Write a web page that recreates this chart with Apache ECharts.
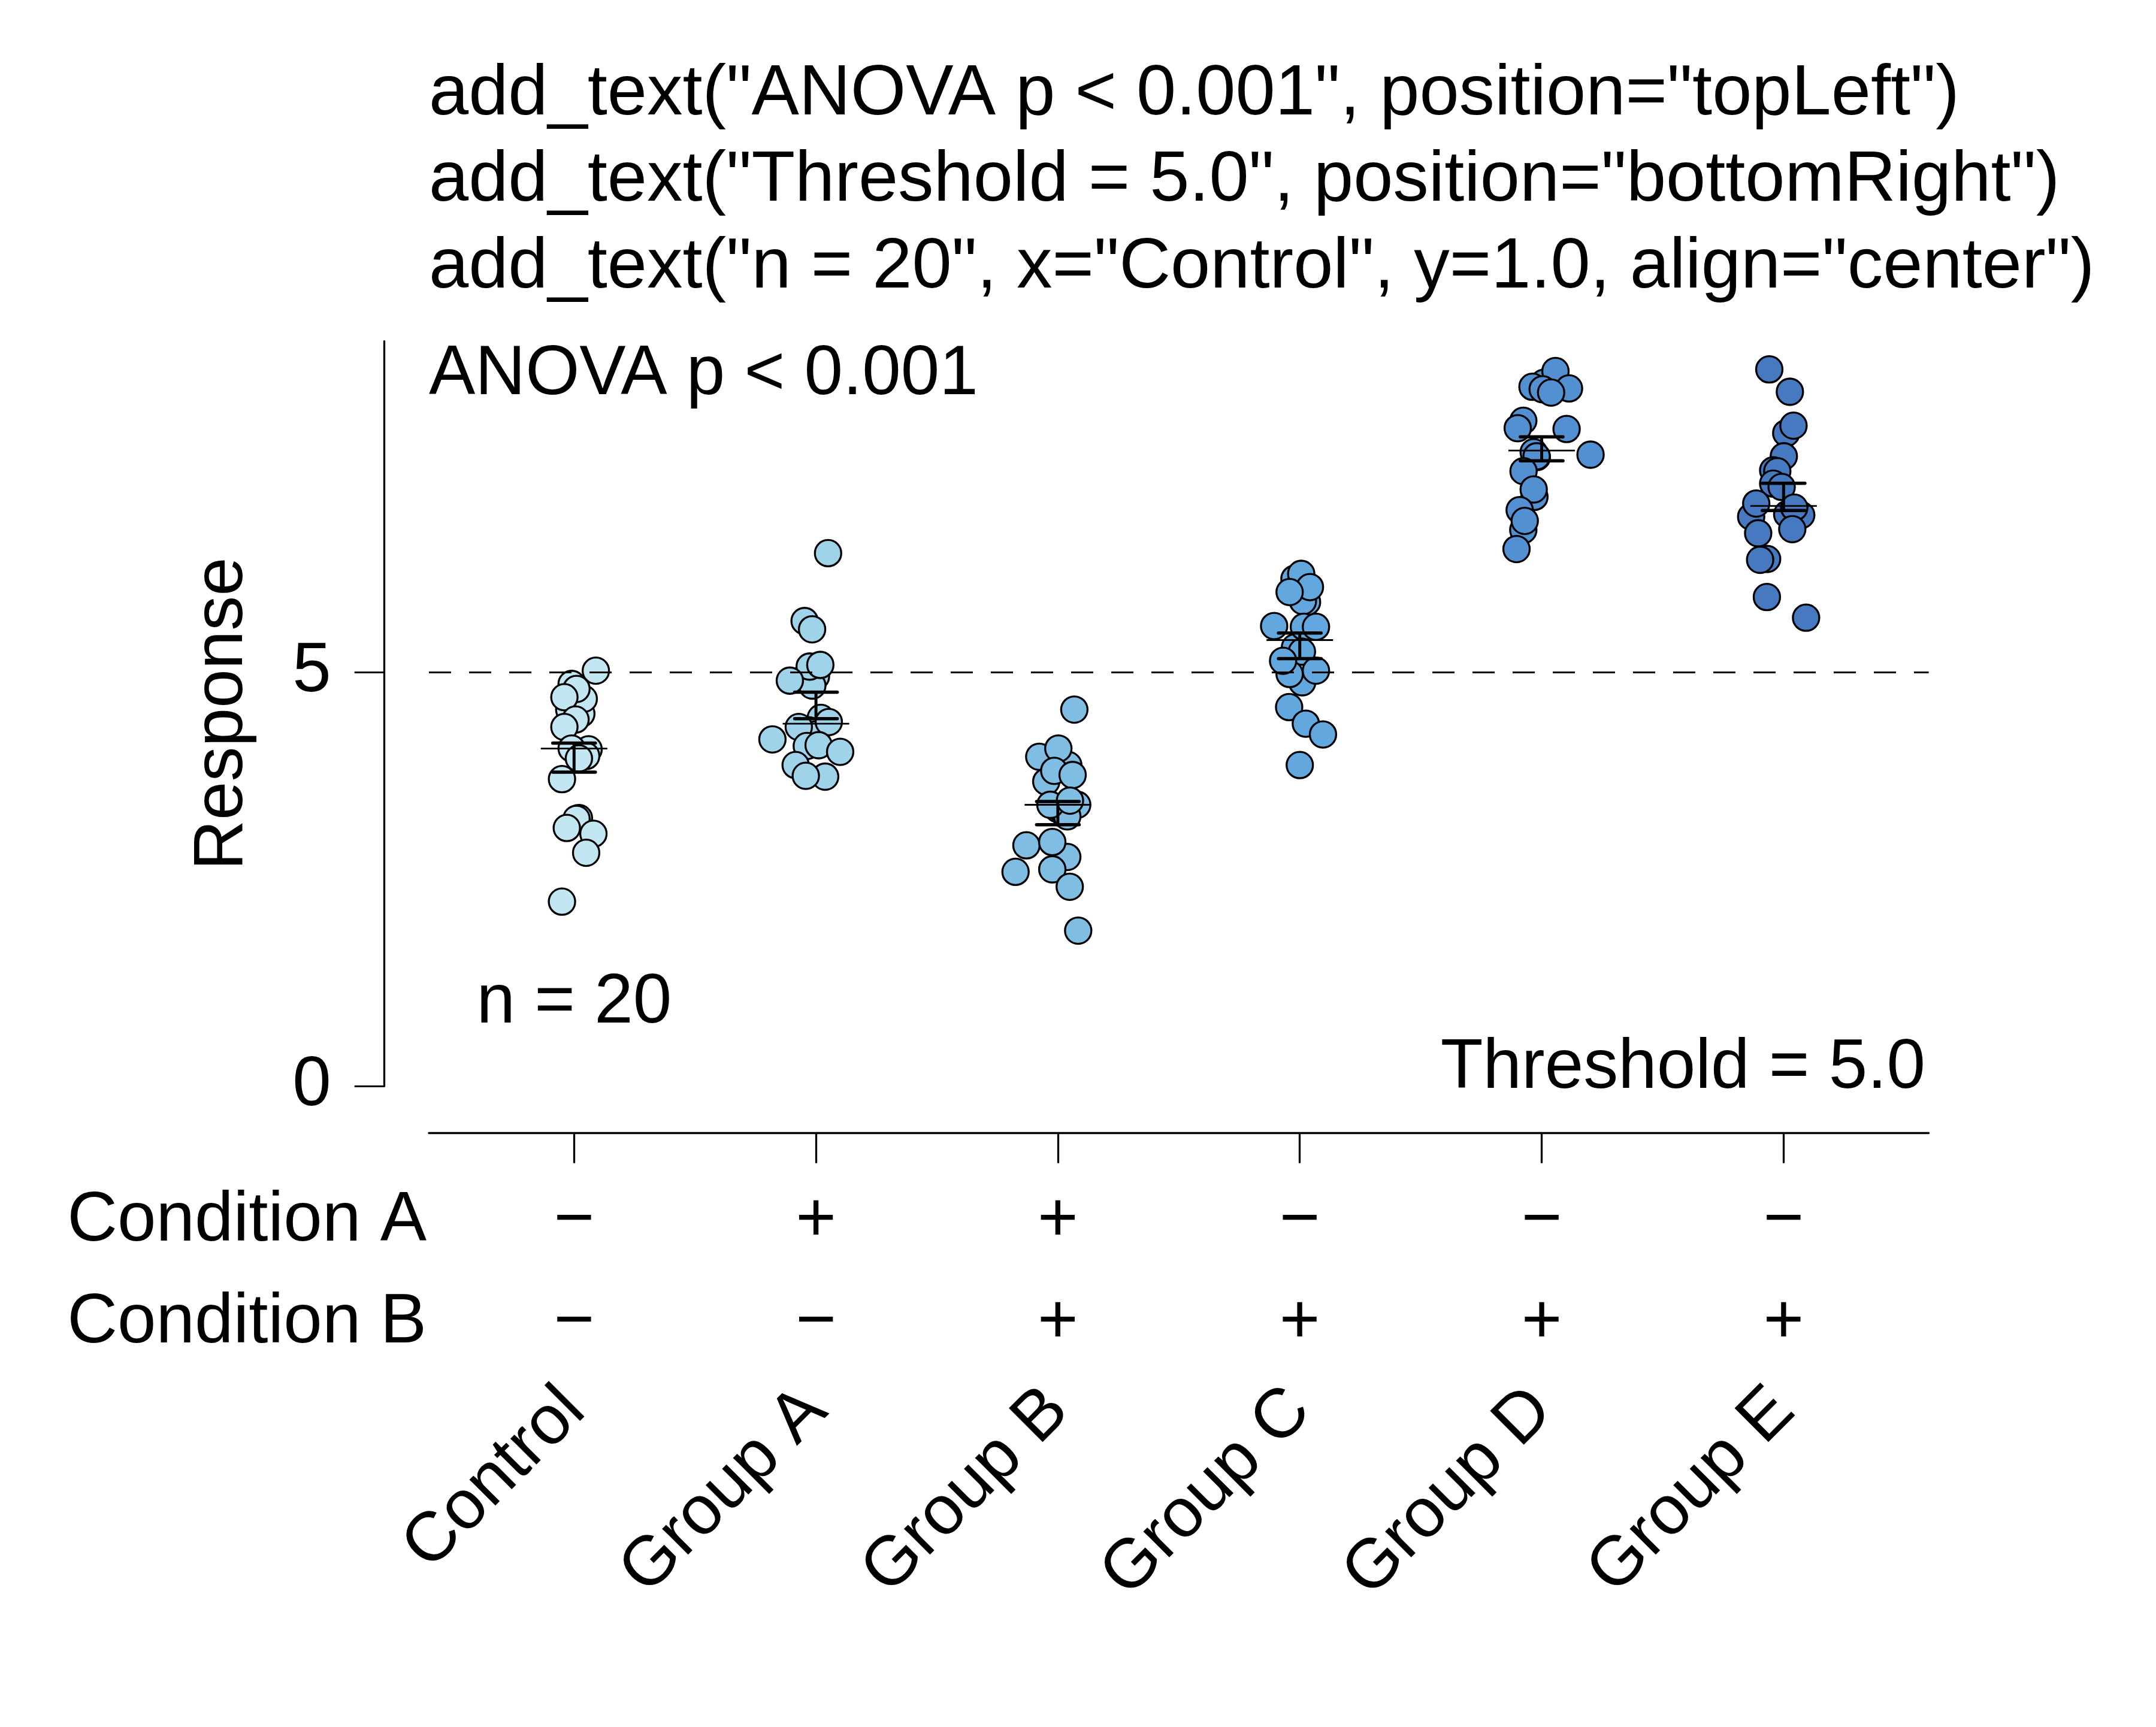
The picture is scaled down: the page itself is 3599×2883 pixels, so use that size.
<!DOCTYPE html>
<html><head><meta charset="utf-8">
<script src="https://cdn.jsdelivr.net/npm/echarts@6/dist/echarts.min.js"></script>
<style>html,body{margin:0;padding:0;background:#fff}#chart{width:3599px;height:2883px}</style>
</head><body><div id="chart"></div>
<script>
// ---------------- DATA ----------------
const categories = ['Control', 'Group A', 'Group B', 'Group C', 'Group D', 'Group E'];
const conditionA = ['\u2212', '+', '+', '\u2212', '\u2212', '\u2212'];
const conditionB = ['\u2212', '\u2212', '+', '+', '+', '+'];
const yTicks = [0, 5];
const threshold = 5.0;

// jittered points: [x offset from category centre, response]
const controlPoints = [[-0.02,4.55],[0.03,4.50],[0.09,5.02],[-0.01,4.86],[0.04,4.68],[0.01,4.80],[-0.04,4.70],[0.006,4.43],[-0.04,4.34],[0.06,4.07],[-0.01,4.08],[0.05,3.99],[0.02,3.96],[-0.05,3.71],[0.02,3.24],[0.01,3.23],[0.08,3.05],[-0.03,3.12],[0.05,2.82],[-0.05,2.23]];
const groupAPoints = [[0.0,4.95],[0.02,4.45],[-0.03,4.30],[0.0,4.25],[0.05,6.44],[-0.047,5.62],[-0.016,5.52],[-0.015,4.84],[-0.026,5.07],[0.018,5.09],[-0.108,4.90],[0.053,4.40],[-0.071,4.34],[-0.18,4.19],[-0.038,4.11],[0.011,4.12],[0.1,4.04],[-0.084,3.88],[0.038,3.74],[-0.042,3.75]];
const groupBPoints = [[0.0,3.35],[0.03,3.28],[-0.077,3.98],[0.043,3.88],[0.002,4.08],[-0.048,3.68],[-0.015,3.81],[0.061,3.76],[0.068,4.55],[0.08,3.40],[0.039,3.26],[-0.031,3.40],[0.05,3.45],[0.039,2.77],[-0.13,2.91],[-0.023,2.95],[-0.175,2.59],[-0.023,2.62],[0.049,2.41],[0.084,1.88]];
const groupCPoints = [[0.01,6.05],[0.03,5.85],[-0.02,5.30],[0.01,4.88],[-0.022,6.13],[0.006,6.19],[0.013,5.86],[0.042,6.03],[-0.042,5.97],[0.017,5.55],[-0.106,5.56],[0.067,5.55],[0.009,5.25],[-0.042,4.98],[-0.069,5.14],[0.067,5.02],[-0.044,4.58],[0.025,4.38],[0.096,4.25],[0.0,3.88]];
const groupDPoints = [[0.01,8.50],[-0.02,7.60],[0.057,8.64],[0.113,8.43],[-0.038,8.45],[0.004,8.42],[0.039,8.38],[-0.076,8.04],[-0.099,7.95],[0.103,7.94],[0.202,7.63],[-0.033,7.66],[-0.021,7.61],[-0.075,7.43],[-0.03,7.12],[-0.033,7.21],[-0.091,6.96],[-0.076,6.72],[-0.07,6.83],[-0.104,6.49]];
const groupEPoints = [[-0.059,8.66],[0.026,8.39],[0.011,7.89],[0.041,7.98],[0.001,7.61],[-0.043,7.44],[-0.026,7.43],[-0.043,7.28],[-0.008,7.24],[-0.134,6.88],[-0.113,7.04],[0.073,6.90],[0.015,6.91],[0.044,6.99],[0.036,6.73],[-0.105,6.68],[-0.068,6.37],[-0.097,6.36],[-0.069,5.91],[0.093,5.66]];
const groupPoints = [controlPoints, groupAPoints, groupBPoints, groupCPoints, groupDPoints, groupEPoints];

// summary lines
const medians = [4.08, 4.38, 3.40, 5.39, 7.68, 7.01];
const means   = [3.97, 4.60, 3.30, 5.32, 7.70, 7.12];
const sems    = [0.175, 0.16, 0.14, 0.155, 0.145, 0.165];

// annotations
const codeLines = [
  'add_text("ANOVA p < 0.001", position="topLeft")',
  'add_text("Threshold = 5.0", position="bottomRight")',
  'add_text("n = 20", x="Control", y=1.0, align="center")'
];
const topLeftText = 'ANOVA p < 0.001';
const bottomRightText = 'Threshold = 5.0';
const nLabel = {text: 'n = 20', x: 0, y: 1.0};

// ---------------- STYLE ----------------
const groupColors = ['#c2e6f2', '#9fd3ea', '#80bde3', '#62a7dd', '#5290d1', '#4779c1'];
const FONT = 'Liberation Sans, Arial, Helvetica, sans-serif';
const FS = 116;
const FS_CODE = 119;
const catIdx = [0, 1, 2, 3, 4, 5];

const chart = echarts.init(document.getElementById('chart'), null, {renderer: 'canvas'});

const scatterSeries = groupPoints.map((pts, g) => ({
  type: 'scatter',
  xAxisIndex: 0, yAxisIndex: 0,
  data: pts.map(p => [g + p[0], p[1]]),
  symbol: 'circle',
  symbolSize: 44,
  itemStyle: {color: groupColors[g], borderColor: '#000', borderWidth: 3.3, opacity: 1},
  z: 2,
  silent: true
}));

const summarySeries = {
  type: 'custom',
  xAxisIndex: 0, yAxisIndex: 0,
  z: 5,
  silent: true,
  data: catIdx.map(i => [i, medians[i], means[i], sems[i]]),
  renderItem: function (params, api) {
    const i = api.value(0), med = api.value(1), mean = api.value(2), sem = api.value(3);
    const halfMed = api.size([0.1375, 0])[0];
    const halfCap = api.size([0.088, 0])[0];
    const pMed = api.coord([i, med]);
    const pTop = api.coord([i, mean + sem]);
    const pBot = api.coord([i, mean - sem]);
    return {type: 'group', children: [
      {type: 'line', shape: {x1: pMed[0] - halfMed, y1: pMed[1], x2: pMed[0] + halfMed, y2: pMed[1]}, style: {stroke: '#000', lineWidth: 2.8}},
      {type: 'line', shape: {x1: pTop[0], y1: pTop[1], x2: pBot[0], y2: pBot[1]}, style: {stroke: '#000', lineWidth: 5}},
      {type: 'line', shape: {x1: pTop[0] - halfCap, y1: pTop[1], x2: pTop[0] + halfCap, y2: pTop[1]}, style: {stroke: '#000', lineWidth: 5.5, lineCap: 'round'}},
      {type: 'line', shape: {x1: pBot[0] - halfCap, y1: pBot[1], x2: pBot[0] + halfCap, y2: pBot[1]}, style: {stroke: '#000', lineWidth: 5.5, lineCap: 'round'}}
    ]};
  },
  markLine: {
    silent: true,
    symbol: 'none',
    label: {show: false},
    lineStyle: {color: '#000', type: [37, 30], width: 3},
    data: [{yAxis: threshold}],
    z: 6
  }
};

const nLabelSeries = {
  type: 'custom',
  xAxisIndex: 0, yAxisIndex: 0,
  silent: true,
  z: 7,
  data: [[nLabel.x, nLabel.y]],
  renderItem: function (params, api) {
    const p = api.coord([api.value(0), api.value(1)]);
    return {type: 'text', x: p[0], y: p[1], style: {text: nLabel.text, fontSize: FS, fontFamily: FONT, fill: '#000', align: 'center', verticalAlign: 'middle'}};
  }
};

function condAxis(arr, name, offset) {
  return {
    type: 'value', gridIndex: 0, position: 'bottom', offset: offset,
    min: -0.6, max: 5.6,
    axisLine: {show: false, onZero: false}, axisTick: {show: false}, splitLine: {show: false},
    axisLabel: {show: true, customValues: catIdx, margin: 0, verticalAlign: 'middle',
      fontSize: FS, fontFamily: FONT, color: '#000',
      formatter: v => arr[Math.round(v)]},
    name: name, nameLocation: 'start', nameGap: 4,
    nameTextStyle: {fontSize: FS, fontFamily: FONT, color: '#000'}
  };
}

const option = {
  animation: false,
  backgroundColor: '#fff',
  grid: {left: 716, right: 379.4, top: 569.7, bottom: 1069.7, containLabel: false, outerBoundsMode: 'none'},
  xAxis: [
    {
      type: 'value', gridIndex: 0, position: 'bottom', offset: 78.4,
      min: -0.6, max: 5.6,
      axisLine: {show: true, onZero: false, lineStyle: {color: '#000', width: 3.3}},
      axisTick: {show: true, customValues: catIdx, length: 50, lineStyle: {color: '#000', width: 3.3}},
      splitLine: {show: false},
      axisLabel: {show: true, customValues: catIdx, rotate: 45, margin: 445,
        fontSize: FS, fontFamily: FONT, color: '#000',
        formatter: v => categories[Math.round(v)]}
    },
    condAxis(conditionA, 'Condition A', 226),
    condAxis(conditionB, 'Condition B', 396)
  ],
  yAxis: {
    type: 'value', gridIndex: 0, position: 'left', offset: 74.3,
    min: 0, max: 9,
    axisLine: {show: true, onZero: false, lineStyle: {color: '#000', width: 3.3}},
    axisTick: {show: true, customValues: yTicks, length: 50, lineStyle: {color: '#000', width: 3}},
    splitLine: {show: false},
    axisLabel: {show: true, customValues: yTicks, margin: 89, fontSize: FS, fontFamily: FONT, color: '#000'},
    name: 'Response', nameLocation: 'middle', nameGap: 212, nameRotate: 90,
    nameTextStyle: {fontSize: FS, fontFamily: FONT, color: '#000'}
  },
  graphic: [
    {type: 'text', x: 716, y: 158, silent: true, style: {text: codeLines[0], fontSize: FS_CODE, fontFamily: FONT, fill: '#000', align: 'left', verticalAlign: 'middle'}},
    {type: 'text', x: 716, y: 302.5, silent: true, style: {text: codeLines[1], fontSize: FS_CODE, fontFamily: FONT, fill: '#000', align: 'left', verticalAlign: 'middle'}},
    {type: 'text', x: 716, y: 447.5, silent: true, style: {text: codeLines[2], fontSize: FS_CODE, fontFamily: FONT, fill: '#000', align: 'left', verticalAlign: 'middle'}},
    {type: 'text', x: 716, y: 626, silent: true, style: {text: topLeftText, fontSize: FS, fontFamily: FONT, fill: '#000', align: 'left', verticalAlign: 'middle'}},
    {type: 'text', x: 3214, y: 1784, silent: true, style: {text: bottomRightText, fontSize: FS, fontFamily: FONT, fill: '#000', align: 'right', verticalAlign: 'middle'}}
  ],
  series: scatterSeries.concat([summarySeries, nLabelSeries])
};
chart.setOption(option);
</script>
</body></html>
